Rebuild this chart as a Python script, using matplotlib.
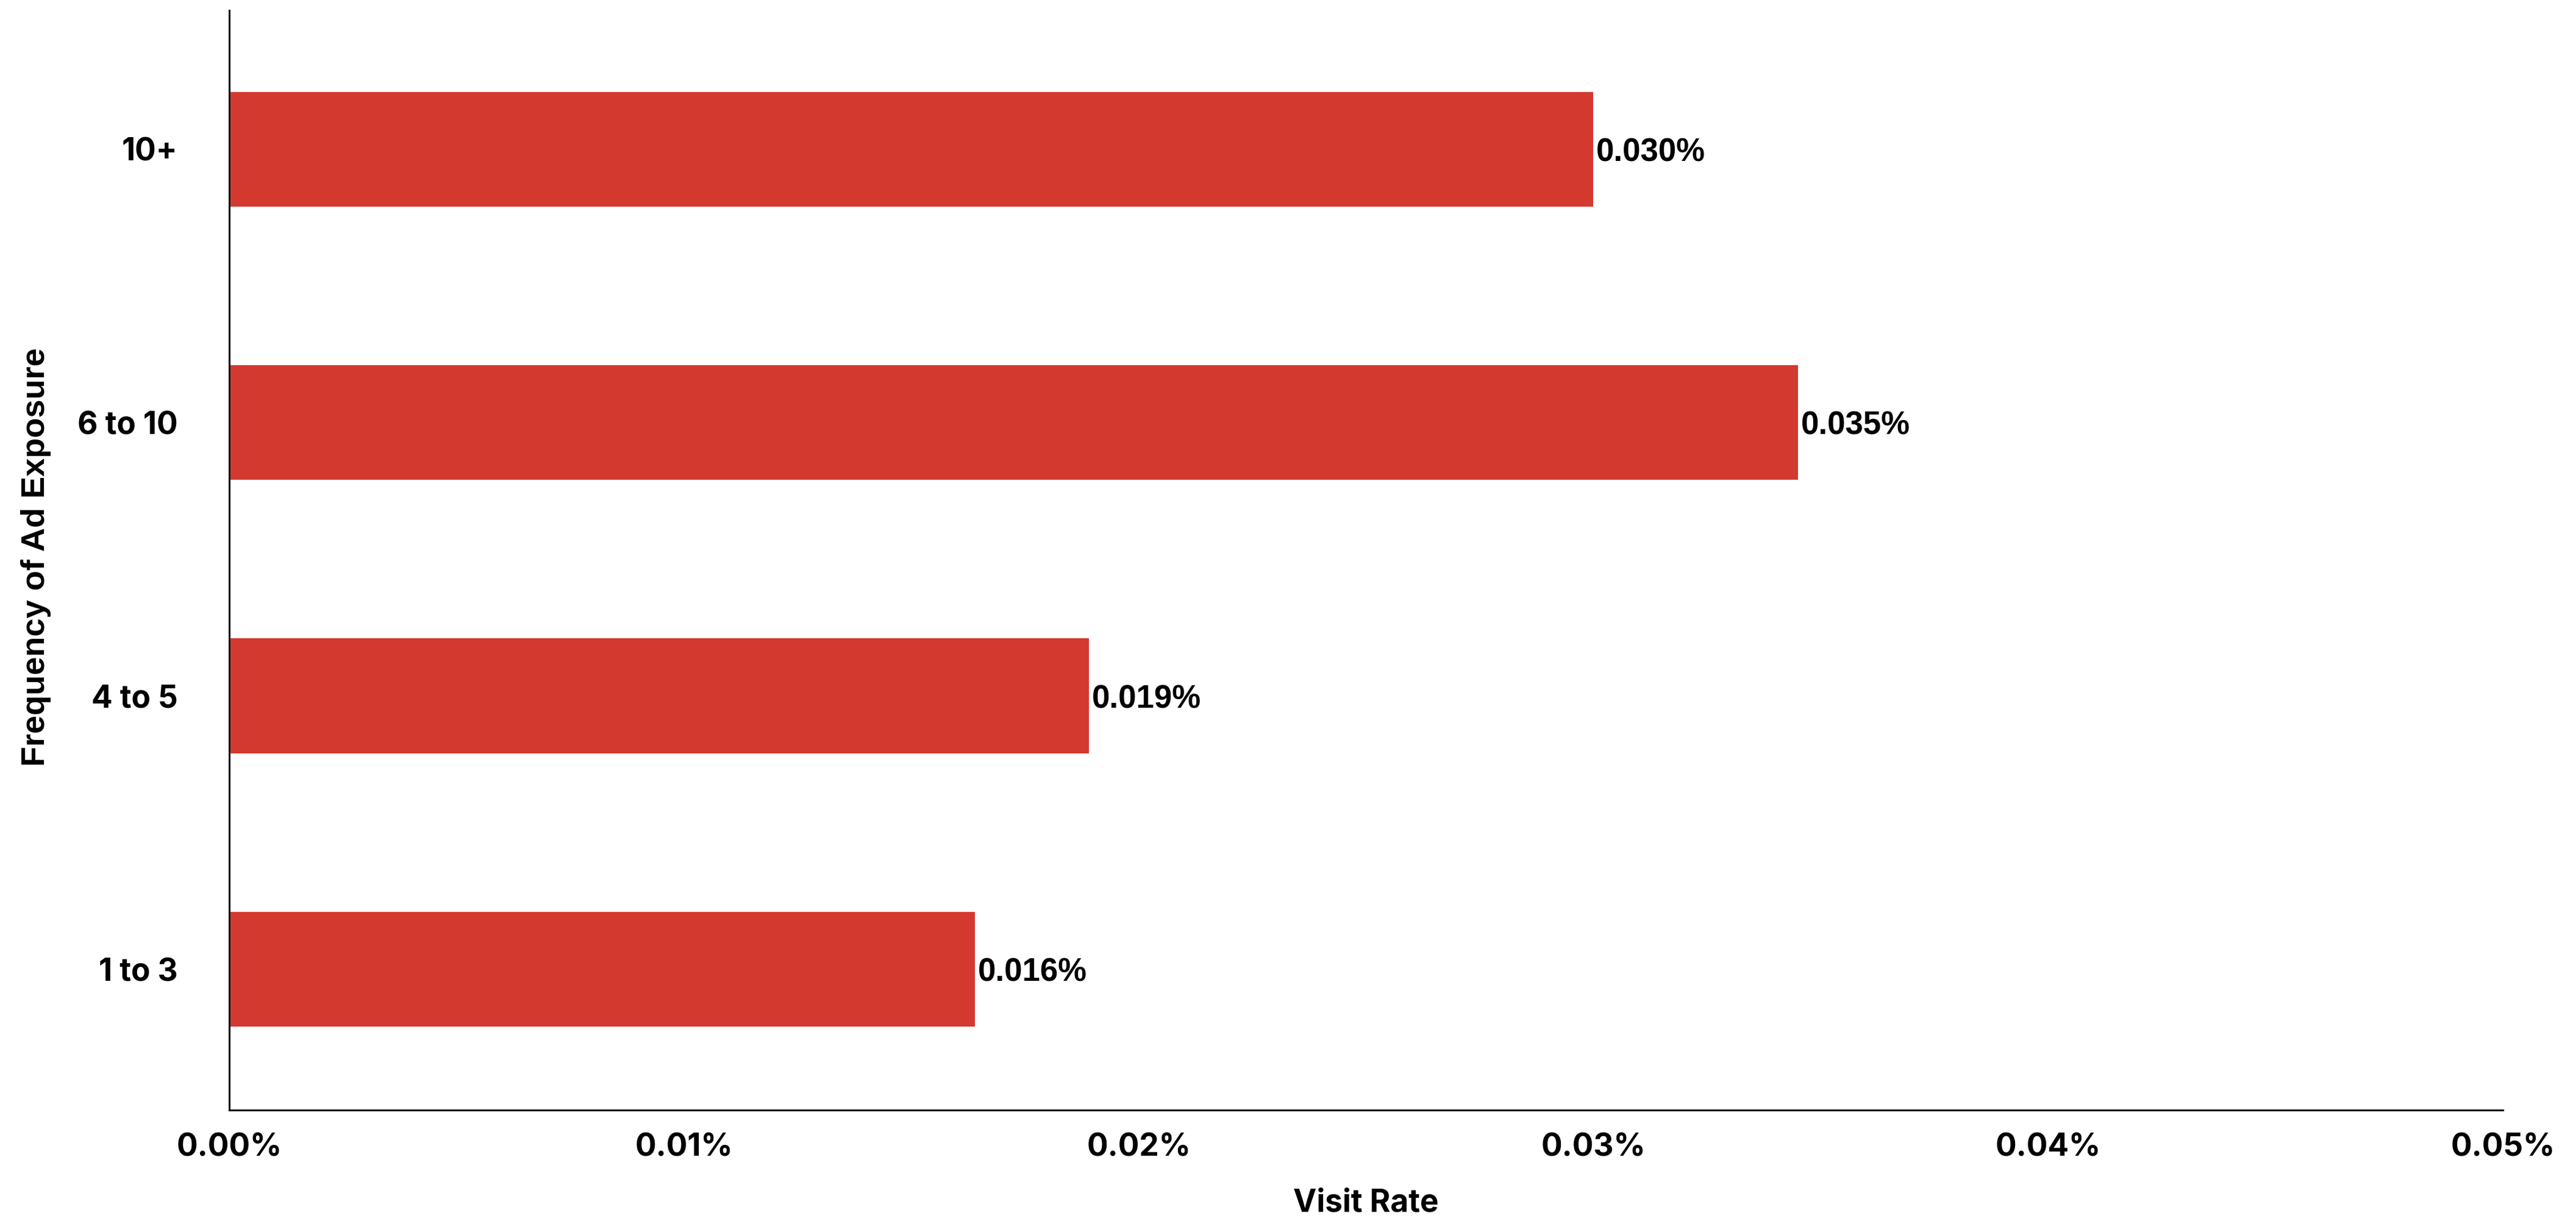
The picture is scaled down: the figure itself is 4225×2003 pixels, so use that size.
import numpy as np
import matplotlib
matplotlib.use("Agg")
import matplotlib.pyplot as plt
from matplotlib.ticker import FuncFormatter

# Visit rate (%) by frequency of ad exposure, bottom to top
freq_groups = ["1 to 3", "4 to 5", "6 to 10", "10+"]
visit_rate = [0.0164, 0.0189, 0.0345, 0.0300]
bar_labels = ["0.016%", "0.019%", "0.035%", "0.030%"]
x_ticks = [0.00, 0.01, 0.02, 0.03, 0.04, 0.05]

bar_color = "#D43930"
tick_font = "Inter"
label_font = "Liberation Sans"

fig = plt.figure(figsize=(42.25, 20.03), dpi=100)
ax = fig.add_axes([0.0890, 0.0909, 0.9716 - 0.0890, 0.9915 - 0.0909])

y = np.arange(len(freq_groups))
bars = ax.barh(y, visit_rate, height=0.42, color=bar_color)
texts = ax.bar_label(bars, labels=bar_labels, padding=3.5,
                     fontsize=38, fontweight="bold", family=label_font)
for t in texts:
    t.set_va("center_baseline")

ax.set_xlim(0, 0.05)
ax.set_ylim(-0.515, 3.508)
ax.set_xticks(x_ticks)
ax.xaxis.set_major_formatter(FuncFormatter(lambda v, p: f"{v:.2f}%"))
ax.set_yticks(y)
ax.set_yticklabels(freq_groups)

for lab in ax.get_xticklabels() + ax.get_yticklabels():
    lab.set_family(tick_font)
    lab.set_fontweight("bold")
    lab.set_fontsize(37)
ax.tick_params(axis="x", length=0, pad=27)
ax.tick_params(axis="y", length=0, pad=61)

for s in ["top", "right"]:
    ax.spines[s].set_visible(False)
for s in ["left", "bottom"]:
    ax.spines[s].set_linewidth(2.2)
    ax.spines[s].set_color("#111111")

ax.set_xlabel("Visit Rate", family=tick_font, fontweight="bold",
              fontsize=37, labelpad=30)
ax.set_ylabel("Frequency of Ad Exposure", family=label_font,
              fontweight="bold", fontsize=39, va="center")
ax.yaxis.set_label_coords(-0.085, 0.503)

fig.savefig("out.png", dpi=100, facecolor="white")
